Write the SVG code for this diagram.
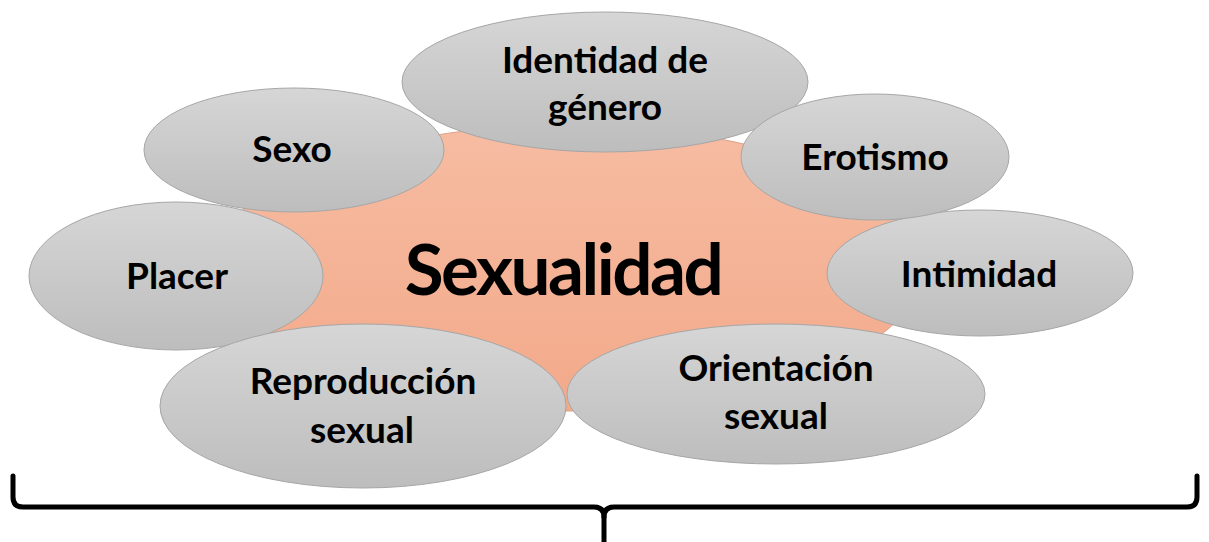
<svg xmlns="http://www.w3.org/2000/svg" width="1209" height="542" viewBox="0 0 1209 542">
  <defs>
    <linearGradient id="gGray" x1="0" y1="0" x2="0" y2="1">
      <stop offset="0" stop-color="#D6D6D6"/>
      <stop offset="1" stop-color="#BDBDBD"/>
    </linearGradient>
    <linearGradient id="gSalmon" x1="0" y1="0" x2="0" y2="1">
      <stop offset="0" stop-color="#F6BCA2"/>
      <stop offset="1" stop-color="#F3A98A"/>
    </linearGradient>
  </defs>
  <style>
    .sat { fill: url(#gGray); stroke: #A6A6A6; stroke-width: 1; }
    .hub { fill: url(#gSalmon); stroke: #D9A088; stroke-width: 1; }
    .lbl { font-family: Lato, "Open Sans", "Liberation Sans", sans-serif; font-weight: bold; font-size: 37px; fill: #000; text-anchor: middle; }
    .big { font-family: Lato, "Open Sans", "Liberation Sans", sans-serif; font-weight: bold; font-size: 71px; fill: #000; text-anchor: middle; letter-spacing: -2.5px; }
    .brace { fill: none; stroke: #000; stroke-width: 5; stroke-linecap: round; stroke-linejoin: round; }
  </style>
  <rect width="1209" height="542" fill="#FFFFFF"/>

  <g id="hub">
    <ellipse class="hub" cx="567" cy="268" rx="355" ry="143"/>
    <text class="big" x="563" y="295">Sexualidad</text>
  </g>

  <g id="identidad">
    <ellipse class="sat" cx="605" cy="82" rx="203" ry="70"/>
    <text class="lbl" x="605" y="73">Identidad de</text>
    <text class="lbl" x="605" y="120">género</text>
  </g>

  <g id="sexo">
    <ellipse class="sat" cx="294" cy="150" rx="150" ry="62"/>
    <text class="lbl" x="292" y="162">Sexo</text>
  </g>

  <g id="intimidad">
    <ellipse class="sat" cx="980" cy="273" rx="153" ry="63"/>
    <text class="lbl" x="979" y="287">Intimidad</text>
  </g>

  <g id="erotismo">
    <ellipse class="sat" cx="875" cy="157" rx="134" ry="63"/>
    <text class="lbl" x="875" y="170">Erotismo</text>
  </g>

  <g id="orientacion">
    <ellipse class="sat" cx="776" cy="394" rx="209" ry="70"/>
    <text class="lbl" x="776" y="381">Orientación</text>
    <text class="lbl" x="776" y="429">sexual</text>
  </g>

  <g id="placer">
    <ellipse class="sat" cx="176" cy="276" rx="147" ry="74"/>
    <text class="lbl" x="177" y="289">Placer</text>
  </g>

  <g id="reproduccion">
    <ellipse class="sat" cx="363" cy="406" rx="203" ry="82"/>
    <text class="lbl" x="363" y="394">Reproducción</text>
    <text class="lbl" x="362" y="443">sexual</text>
  </g>

  <g id="connectors">
    <path class="brace" d="M 13 476 V 497 Q 13 507 23 507 H 594 Q 604 507 604 517 V 545"/>
    <path class="brace" d="M 1197 476 V 497 Q 1197 507 1187 507 H 614 Q 604 507 604 517"/>
  </g>
</svg>
